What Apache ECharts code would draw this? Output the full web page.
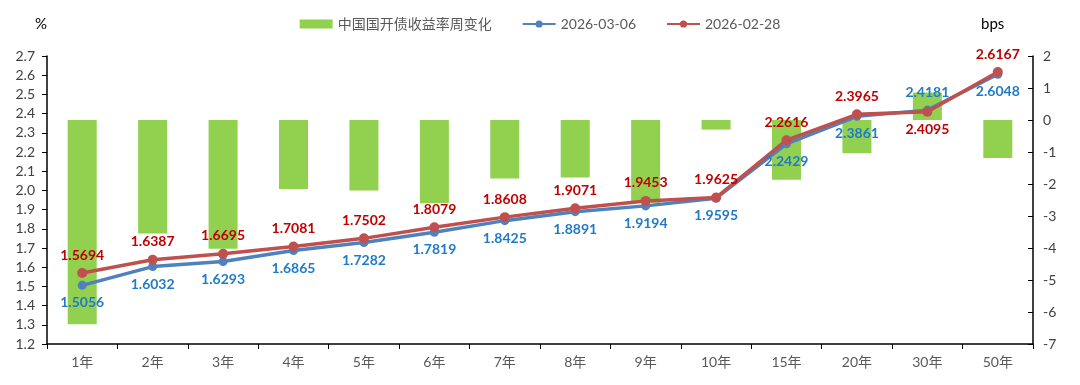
<!DOCTYPE html>
<html><head><meta charset="utf-8">
<script src="https://cdn.jsdelivr.net/npm/echarts@6/dist/echarts.min.js"></script>
<style>html,body{margin:0;padding:0;background:#fff}#c{width:1080px;height:385px}</style>
</head><body><div id="c"></div>
<script>
const categories = ['1年','2年','3年','4年','5年','6年','7年','8年','9年','10年','15年','20年','30年','50年'];
const yieldMar06 = [1.5056,1.6032,1.6293,1.6865,1.7282,1.7819,1.8425,1.8891,1.9194,1.9595,2.2429,2.3861,2.4181,2.6048];
const yieldFeb28 = [1.5694,1.6387,1.6695,1.7081,1.7502,1.8079,1.8608,1.9071,1.9453,1.9625,2.2616,2.3965,2.4095,2.6167];
const weeklyChangeBps = [-6.38,-3.55,-4.02,-2.16,-2.20,-2.60,-1.83,-1.80,-2.59,-0.30,-1.87,-1.04,0.86,-1.19];
const leftTicks = {min:1.2, max:2.7, interval:0.1};
const rightTicks = {min:-7, max:2, interval:1};
const names = ['中国国开债收益率周变化','2026-03-06','2026-02-28'];

const font = "Lato, 'Noto Sans CJK SC', sans-serif";
const chart = echarts.init(document.getElementById('c'), null, {renderer:'canvas'});

function lineLabels(vals, color, isRed){
  return vals.map((v,i)=>{
    let pos = isRed ? 'top' : 'bottom';
    if (categories[i]==='30年') pos = isRed ? 'bottom' : 'top';
    return {value:v, label:{show:true, position:pos, distance:6, color:color, fontWeight:'bold', fontSize:14, fontFamily:font, formatter:(p)=>p.value.toFixed(4)}};
  });
}

chart.setOption({
  animation:false,
  textStyle:{fontFamily:font},
  legend:{
    top:12, left:'center', itemGap:30, itemWidth:33, itemHeight:9,
    textStyle:{color:'#595959', fontSize:14, fontFamily:font},
    data:[{name:names[0], icon:'rect'}, {name:names[1]}, {name:names[2]}]
  },
  grid:{left:47, right:47, top:56, bottom:41, containLabel:false},
  xAxis:{
    type:'category', data:categories, boundaryGap:true,
    axisLine:{onZero:false, lineStyle:{color:'#000', width:1.5}},
    axisTick:{show:true, alignWithLabel:false, length:5, lineStyle:{color:'#000'}},
    axisLabel:{color:'#595959', fontSize:14, margin:11, fontFamily:font}
  },
  yAxis:[
    {type:'value', min:leftTicks.min, max:leftTicks.max, interval:leftTicks.interval,
     name:'%', nameLocation:'end', nameGap:24, nameTextStyle:{color:'#000', fontSize:15, align:'right', padding:[0,0,0,0]},
     axisLine:{show:true, lineStyle:{color:'#000', width:1.5}},
     axisTick:{show:true, length:5, lineStyle:{color:'#000'}},
     splitLine:{show:false},
     axisLabel:{color:'#404040', fontSize:14, margin:12, formatter:(v)=>v.toFixed(1)}},
    {type:'value', min:rightTicks.min, max:rightTicks.max, interval:rightTicks.interval,
     name:'bps', nameLocation:'end', nameGap:24, nameTextStyle:{color:'#000', fontSize:15, align:'left', padding:[0,0,0,-52]},
     axisLine:{show:true, lineStyle:{color:'#000', width:1.5}},
     axisTick:{show:true, inside:true, length:5, lineStyle:{color:'#000'}},
     splitLine:{show:false},
     axisLabel:{color:'#404040', fontSize:14, margin:10}}
  ],
  series:[
    {name:names[0], type:'bar', yAxisIndex:1, data:weeklyChangeBps, barWidth:29,
     itemStyle:{color:'#92D050'}},
    {name:names[1], type:'line', yAxisIndex:0, data:lineLabels(yieldMar06,'#1F7BC8',false),
     symbol:'circle', symbolSize:9, lineStyle:{color:'#4F81BD', width:3.5}, itemStyle:{color:'#4F81BD'}},
    {name:names[2], type:'line', yAxisIndex:0, data:lineLabels(yieldFeb28,'#C00000',true),
     symbol:'circle', symbolSize:10, lineStyle:{color:'#C0504D', width:3.5}, itemStyle:{color:'#C0504D'}}
  ]
});
</script></body></html>
